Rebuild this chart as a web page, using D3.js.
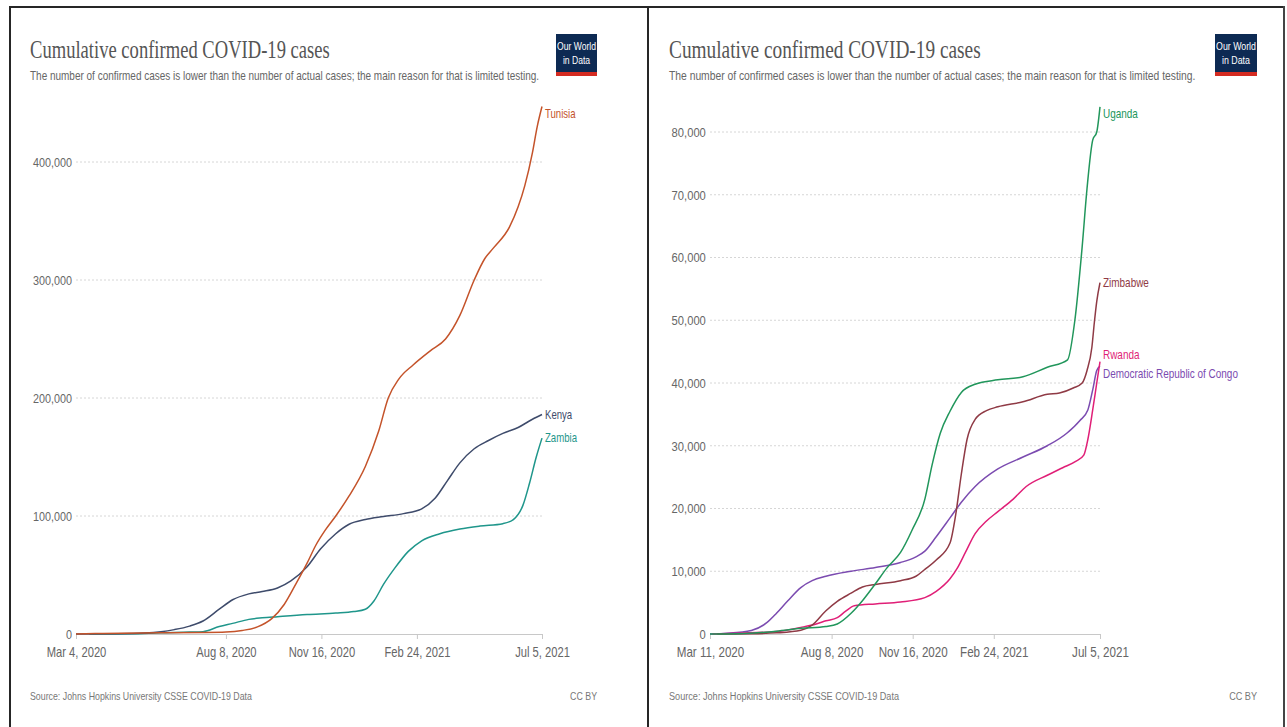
<!DOCTYPE html>
<html><head><meta charset="utf-8">
<script src="https://cdn.jsdelivr.net/npm/d3@7"></script>
<style>body{margin:0;background:#fff}svg{display:block}</style>
</head><body><svg id="c" width="1287" height="727"></svg>
<script>
// ---------- DATA ----------
const titleText = "Cumulative confirmed COVID-19 cases";
const subtitleText = "The number of confirmed cases is lower than the number of actual cases; the main reason for that is limited testing.";
const sourceText = "Source: Johns Hopkins University CSSE COVID-19 Data";
const licenseText = "CC BY";

const leftXTicks = ["2020-03-04","2020-08-08","2020-11-16","2021-02-24","2021-07-05"];
const rightXTicks = ["2020-03-11","2020-08-08","2020-11-16","2021-02-24","2021-07-05"];
const leftYTicks = [0,100000,200000,300000,400000];
const rightYTicks = [0,10000,20000,30000,40000,50000,60000,70000,80000];

const tunisia = [["2020-03-04",0],["2020-04-01",455],["2020-06-01",1080],["2020-07-15",1300],["2020-08-08",1700],["2020-08-25",3000],["2020-09-10",6000],["2020-09-25",13000],["2020-10-08",25000],["2020-10-20",42000],["2020-11-01",60000],["2020-11-10",75000],["2020-11-20",88000],["2020-12-01",100000],["2020-12-15",117000],["2021-01-01",142000],["2021-01-15",172000],["2021-01-25",200000],["2021-02-05",216000],["2021-02-20",228000],["2021-03-10",240000],["2021-03-26",250000],["2021-04-10",270000],["2021-04-25",300000],["2021-05-06",318000],["2021-05-15",327000],["2021-06-01",345000],["2021-06-10",362000],["2021-06-17",380000],["2021-06-25",408000],["2021-06-30",430000],["2021-07-05",447000]];
const kenya = [["2020-03-04",0],["2020-04-15",220],["2020-05-15",800],["2020-06-01",1900],["2020-06-15",3700],["2020-07-01",6700],["2020-07-15",11000],["2020-08-01",21000],["2020-08-15",29000],["2020-09-01",34000],["2020-09-15",36000],["2020-10-01",39000],["2020-10-15",45000],["2020-11-01",57000],["2020-11-15",72000],["2020-12-01",85000],["2020-12-15",93000],["2021-01-01",97000],["2021-01-20",99500],["2021-02-10",102000],["2021-03-01",106000],["2021-03-15",115000],["2021-03-28",130000],["2021-04-10",145000],["2021-04-25",157000],["2021-05-10",164000],["2021-05-25",170000],["2021-06-10",175000],["2021-06-25",182000],["2021-07-05",186000]];
const zambia = [["2020-03-18",0],["2020-05-01",110],["2020-06-01",1100],["2020-07-01",1600],["2020-07-15",2000],["2020-08-01",6300],["2020-08-15",9000],["2020-09-01",12400],["2020-09-15",13700],["2020-10-01",14700],["2020-11-01",16500],["2020-12-01",17700],["2020-12-20",19000],["2021-01-01",21000],["2021-01-10",28000],["2021-01-20",42000],["2021-02-01",56000],["2021-02-15",70000],["2021-03-01",79000],["2021-03-20",85000],["2021-04-10",89000],["2021-05-01",91500],["2021-05-25",93500],["2021-06-05",97000],["2021-06-15",109000],["2021-06-22",128000],["2021-06-29",150000],["2021-07-05",166000]];

const uganda = [["2020-03-11",0],["2020-04-15",50],["2020-06-01",450],["2020-07-01",900],["2020-08-01",1200],["2020-08-15",1600],["2020-09-01",3300],["2020-09-15",5300],["2020-10-01",8000],["2020-10-15",10500],["2020-11-01",13000],["2020-11-15",16500],["2020-12-01",21500],["2020-12-10",27000],["2020-12-20",32000],["2021-01-01",35500],["2021-01-15",38500],["2021-02-01",39800],["2021-03-01",40500],["2021-04-01",41000],["2021-05-01",42500],["2021-05-26",43700],["2021-06-04",50000],["2021-06-13",61700],["2021-06-19",71000],["2021-06-26",78700],["2021-07-01",80000],["2021-07-05",84000]];
const zimbabwe = [["2020-03-20",0],["2020-05-01",40],["2020-06-01",180],["2020-07-01",600],["2020-07-15",1400],["2020-08-01",3700],["2020-08-15",5200],["2020-09-01",6500],["2020-09-15",7500],["2020-10-01",7900],["2020-11-01",8500],["2020-11-20",9200],["2020-12-01",10300],["2020-12-15",11800],["2021-01-01",14500],["2021-01-08",19000],["2021-01-15",25500],["2021-01-22",31000],["2021-02-01",34200],["2021-02-15",35600],["2021-03-01",36200],["2021-04-01",37000],["2021-05-01",38200],["2021-05-16",38400],["2021-06-02",39200],["2021-06-13",40000],["2021-06-19",42000],["2021-06-25",45700],["2021-06-28",49600],["2021-07-01",53000],["2021-07-05",56000]];
const rwanda = [["2020-03-14",0],["2020-04-15",130],["2020-06-01",380],["2020-07-01",1050],["2020-07-20",1600],["2020-08-01",2100],["2020-08-15",2600],["2020-08-25",3600],["2020-09-05",4500],["2020-10-01",4800],["2020-11-01",5100],["2020-12-01",5800],["2020-12-15",6800],["2021-01-01",8800],["2021-01-10",10500],["2021-01-20",13000],["2021-02-01",16000],["2021-02-15",18000],["2021-03-01",19500],["2021-03-20",21500],["2021-04-05",23500],["2021-05-01",25300],["2021-05-20",26500],["2021-06-05",27500],["2021-06-15",28500],["2021-06-20",31000],["2021-06-26",35700],["2021-07-01",40000],["2021-07-05",43400]];
const drc = [["2020-03-11",0],["2020-04-01",110],["2020-05-01",570],["2020-05-20",1800],["2020-06-01",3300],["2020-06-15",5300],["2020-07-01",7400],["2020-07-15",8500],["2020-08-01",9200],["2020-09-01",10000],["2020-10-01",10600],["2020-11-01",11400],["2020-11-20",12300],["2020-12-01",13200],["2020-12-15",15500],["2021-01-01",18500],["2021-01-15",21000],["2021-02-01",23500],["2021-03-01",26300],["2021-04-01",28200],["2021-05-01",30000],["2021-05-25",32000],["2021-06-10",34000],["2021-06-20",35700],["2021-06-26",38900],["2021-07-01",42000],["2021-07-05",42700]];

const leftSeries = [
  {name:"Zambia", color:"#1f968b", values:zambia},
  {name:"Kenya", color:"#3e4b6b", values:kenya},
  {name:"Tunisia", color:"#c4532a", values:tunisia}
];
const rightSeries = [
  {name:"Democratic Republic of Congo", color:"#7b4bb0", values:drc},
  {name:"Rwanda", color:"#e01f77", values:rwanda},
  {name:"Zimbabwe", color:"#8f3a45", values:zimbabwe},
  {name:"Uganda", color:"#21965b", values:uganda}
];

// ---------- DRAW ----------
const svg = d3.select("#c");
const parse = d3.utcParse("%Y-%m-%d");
const fmtDate = d3.utcFormat("%b %-d, %Y");
const FONT = "'Liberation Sans', Arial, sans-serif";
const SERIF = "'Liberation Serif', 'Times New Roman', serif";

svg.append("rect").attr("x",0).attr("y",0).attr("width",1287).attr("height",727).attr("fill","#fff");
const border = svg.append("g").attr("stroke","#262626").attr("stroke-width",2);
border.append("line").attr("x1",9).attr("x2",1285).attr("y1",7).attr("y2",7);
border.append("line").attr("x1",10).attr("x2",10).attr("y1",6).attr("y2",727);
border.append("line").attr("x1",648).attr("x2",648).attr("y1",6).attr("y2",727);
border.append("line").attr("x1",1284).attr("x2",1284).attr("y1",6).attr("y2",727).attr("stroke","#444");

function txt(g, x, y, s, o) {
  const t = g.append("text").attr("x", 0).attr("y", 0).text(s)
    .attr("font-family", o.family || FONT).attr("font-size", o.size)
    .attr("fill", o.fill).attr("text-anchor", o.anchor || "start");
  if (o.dy) t.attr("dy", o.dy);
  let sx = o.sx || 1;
  if (o.width) {
    const natural = t.node().getComputedTextLength();
    sx = natural > 0 ? o.width / natural : 1;
  }
  t.attr("transform", `translate(${x},${y}) scale(${sx},1)`);
  return t;
}

function panel(cfg, series, xTicks, yTicks) {
  const g = svg.append("g");
  txt(g, cfg.titleX, 58, titleText, {family:SERIF, size:25, fill:"#555", width:cfg.titleW});
  txt(g, cfg.titleX, 80, subtitleText, {size:12.5, fill:"#666", width:cfg.subW});

  const lg = g.append("g").attr("transform", `translate(${cfg.logoX},34)`);
  lg.append("rect").attr("width", cfg.logoW).attr("height", 42).attr("fill", "#0d2a53");
  lg.append("rect").attr("y", 38).attr("width", cfg.logoW).attr("height", 4).attr("fill", "#d42b21");
  txt(lg, cfg.logoW/2, 16, "Our World", {size:11, fill:"#fff", anchor:"middle", sx:cfg.logoSx});
  txt(lg, cfg.logoW/2, 30, "in Data", {size:11, fill:"#fff", anchor:"middle", sx:cfg.logoSx});

  const x = d3.scaleUtc().domain([parse(xTicks[0]), parse(xTicks[xTicks.length-1])]).range([cfg.x0, cfg.x1]);
  const y = d3.scaleLinear().domain([0, yTicks[yTicks.length-1]]).range([634, cfg.yTop]);

  g.append("g").selectAll("line").data(yTicks.filter(d => d > 0)).join("line")
    .attr("x1", cfg.x0).attr("x2", cfg.x1).attr("y1", d => y(d)).attr("y2", d => y(d))
    .attr("stroke", "#d6d6d6").attr("stroke-dasharray", "2,2").attr("stroke-width", 1);

  const ya = g.append("g").attr("transform", `translate(${cfg.x0},0)`)
    .call(d3.axisLeft(y).tickValues(yTicks).tickSize(0).tickPadding(5).tickFormat(d3.format(",")));
  ya.select(".domain").remove();
  ya.selectAll("text").attr("font-family", FONT).attr("font-size", 13.5).attr("fill", "#666")
    .attr("transform", `scale(${cfg.sx},1)`);

  const xa = g.append("g").attr("transform", "translate(0,634)")
    .call(d3.axisBottom(x).tickValues(xTicks.map(parse)).tickSize(5).tickPadding(8).tickFormat(fmtDate));
  xa.select(".domain").attr("stroke", "#c8c8c8");
  xa.selectAll(".tick line").attr("stroke", "#c8c8c8");
  xa.selectAll("text").attr("font-family", FONT).attr("font-size", 14).attr("fill", "#666")
    .attr("transform", `scale(${cfg.sx},1)`);

  const line = d3.line().x(d => x(parse(d[0]))).y(d => y(d[1])).curve(d3.curveMonotoneX);
  g.append("g").selectAll("path").data(series).join("path")
    .attr("d", d => line(d.values)).attr("fill", "none")
    .attr("stroke", d => d.color).attr("stroke-width", 1.5).attr("stroke-linejoin", "round");

  const items = series.map(s => ({s, y: y(s.values[s.values.length-1][1])}));
  items.sort((a, b) => a.y - b.y);
  for (let it = 0; it < 100; it++) {
    let moved = false;
    for (let i = 0; i < items.length - 1; i++) {
      const ov = 19 - (items[i+1].y - items[i].y);
      if (ov > 0.01) { items[i].y -= ov/2; items[i+1].y += ov/2; moved = true; }
    }
    items.forEach(d => { if (d.y < 114) d.y = 114; });
    if (!moved) break;
  }
  items.forEach(d => txt(g, cfg.x1 + 3, d.y, d.s.name, {size:12, fill:d.s.color, sx:cfg.sx, dy:"0.35em"}));

  txt(g, cfg.titleX, 700, sourceText, {size:11, fill:"#777", sx:cfg.sx});
  txt(g, cfg.ccX, 700, licenseText, {size:11, fill:"#777", anchor:"end", sx:cfg.sx});
}

panel({x0:76, x1:542, yTop:162, titleX:30, titleW:300, subW:510, logoX:556, logoW:41, logoSx:0.78, sx:0.8, ccX:597},
      leftSeries, leftXTicks, leftYTicks);
panel({x0:710, x1:1100, yTop:132, titleX:669, titleW:312, subW:527, logoX:1215, logoW:42, logoSx:0.8, sx:0.83, ccX:1257},
      rightSeries, rightXTicks, rightYTicks);
</script></body></html>
